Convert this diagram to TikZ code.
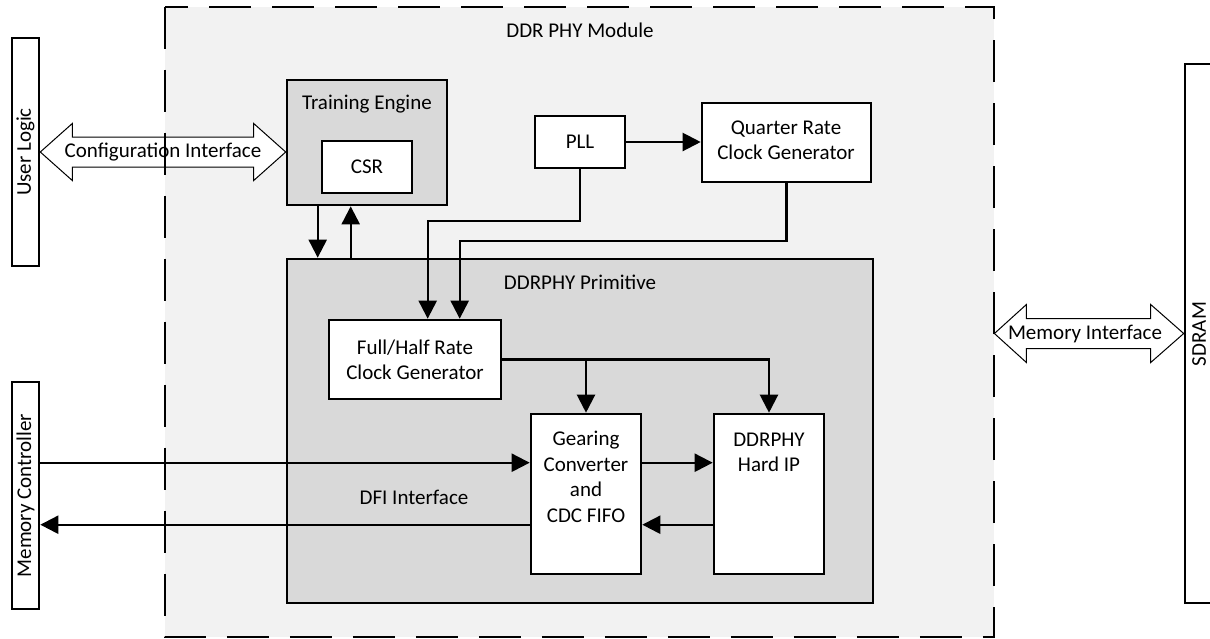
\documentclass[tikz,border=0pt]{standalone}
\usepackage{fontspec}
\setmainfont{Carlito}
\usetikzlibrary{fit,calc,arrows.meta}
\definecolor{modfill}{HTML}{F2F2F2}
\definecolor{primfill}{HTML}{D9D9D9}
\begin{document}
\begin{tikzpicture}[x=0.5pt,y=-0.5pt,
  font=\fontsize{10.5}{12.6}\selectfont,
  blk/.style={draw=black, line width=1.3pt, fill=white, inner sep=0pt},
  grayblk/.style={blk, fill=primfill},
  conn/.style={line width=1.1pt, -{Triangle[length=9pt,width=9pt]}},
  dbl/.style={draw=black, line width=0.5pt, fill=white},
  txt/.style={inner sep=0pt, align=center},
  vtxt/.style={inner sep=0pt, rotate=90}]
\useasboundingbox (0,0) rectangle (1210,638);
% module background
\node[fit={(165,7) (994,637)}, inner sep=0pt, fill=modfill] (mod) {};
\node[txt] (modlbl) at (580,30) {DDR PHY Module};

% outside blocks
\node[blk, fit={(12,38) (39,266)}] (ul) {};
\node[vtxt] at (ul.center) {User Logic};
\node[blk, fit={(12,382) (39,609)}] (mc) {};
\node[vtxt] at (mc.center) {Memory Controller};
\node[blk, fit={(1185,64) (1213,603)}] (sd) {};
\node[vtxt] at (1199,334) {SDRAM};

% training engine
\node[grayblk, fit={(287,80) (447,205)}] (te) {};
\node[txt] at (367,104) {Training Engine};
\node[blk, fit={(322,141) (412,193)}] (csr) {};
\node[txt] at (csr.center) {CSR};

% PLL and quarter rate
\node[blk, fit={(535,116) (625,168)}] (pll) {};
\node[txt] at (pll.center) {PLL};
\node[blk, fit={(702,103) (871,182)}] (qr) {};
\node[txt] at (786,140) {Quarter Rate\\Clock Generator};

% DDRPHY primitive
\node[grayblk, fit={(287,259) (873,603)}] (prim) {};
\node[txt] at (580,282) {DDRPHY Primitive};
\node[blk, fit={(329,320) (501,399)}] (fh) {};
\node[txt] at (fh.center) {Full/Half Rate\\Clock Generator};
\node[blk, fit={(531,414) (641,574)}] (gc) {};
\node[txt, font=\fontsize{10.5}{12.75}\selectfont] at (586,477) {Gearing\\Converter\\and\\CDC FIFO};
\node[blk, fit={(714,414) (824,574)}] (hip) {};
\node[txt] at (769,452) {DDRPHY\\Hard IP};
\node[txt] at (414,497) {DFI Interface};

% configuration interface double arrow
\coordinate (ca) at (ul.east);
\coordinate (cb) at (ul.east -| te.west);
\draw[dbl] (ca) -- ++(32,-28.5) -- ++(0,13.5) -- ($(cb)+(-32,-15)$) -- ++(0,-13.5)
  -- (cb) -- ++(-32,28.5) -- ++(0,-13.5) -- ($(ca)+(32,15)$) -- ++(0,13.5) -- cycle;
\node[txt] at ($(ca)!0.5!(cb)$) {Configuration Interface};

% memory interface double arrow
\coordinate (ma) at (mod.east |- sd.west);
\coordinate (mb) at (sd.west);
\draw[dbl] (ma) -- ++(32,-29) -- ++(0,14) -- ($(mb)+(-33,-15)$) -- ++(0,-14)
  -- (mb) -- ++(-33,29) -- ++(0,-14) -- ($(ma)+(32,15)$) -- ++(0,14) -- cycle;
\node[txt] at (1085,334) {Memory Interface};

% dashed module border
\draw[line width=1pt, dash pattern=on 21pt off 10.5pt] (mod.north west) rectangle (mod.south east);

% connector anchor points
\coordinate (gcinA) at ([yshift=-25pt]gc.north west);
\coordinate (gcoutA) at ([yshift=-56pt]gc.north west);
\coordinate (gcinB) at ([yshift=-25pt]gc.north east);
\coordinate (hipoutB) at ([yshift=-56pt]hip.north west);
\coordinate (teD) at ([xshift=16pt]te.south west);
\coordinate (teU) at ([xshift=32.5pt]te.south west);
\coordinate (fhA) at ([xshift=50pt]fh.north west);
\coordinate (fhB) at ([xshift=66pt]fh.north west);

% connectors
\draw[conn] (teD) -- (teD |- prim.north);
\draw[conn] (teU |- prim.north) -- (teU);
\draw[conn] (pll.east) -- (pll.east -| qr.west);
\draw[conn] (pll.south) -- ++(0,52) -| (fhA);
\draw[conn] (qr.south) -- ++(0,58) -| (fhB);
\draw[conn] (fh.east) -| (hip.north);
\draw[conn] (fh.east -| gc.north) -- (gc.north);
\draw[conn] (gcinB) -- (gcinB -| hip.west);
\draw[conn] (hipoutB) -- (hipoutB -| gc.east);
\draw[conn] (mc.east |- gcinA) -- (gcinA);
\draw[conn] (gcoutA) -- (mc.east |- gcoutA);
\end{tikzpicture}
\end{document}
